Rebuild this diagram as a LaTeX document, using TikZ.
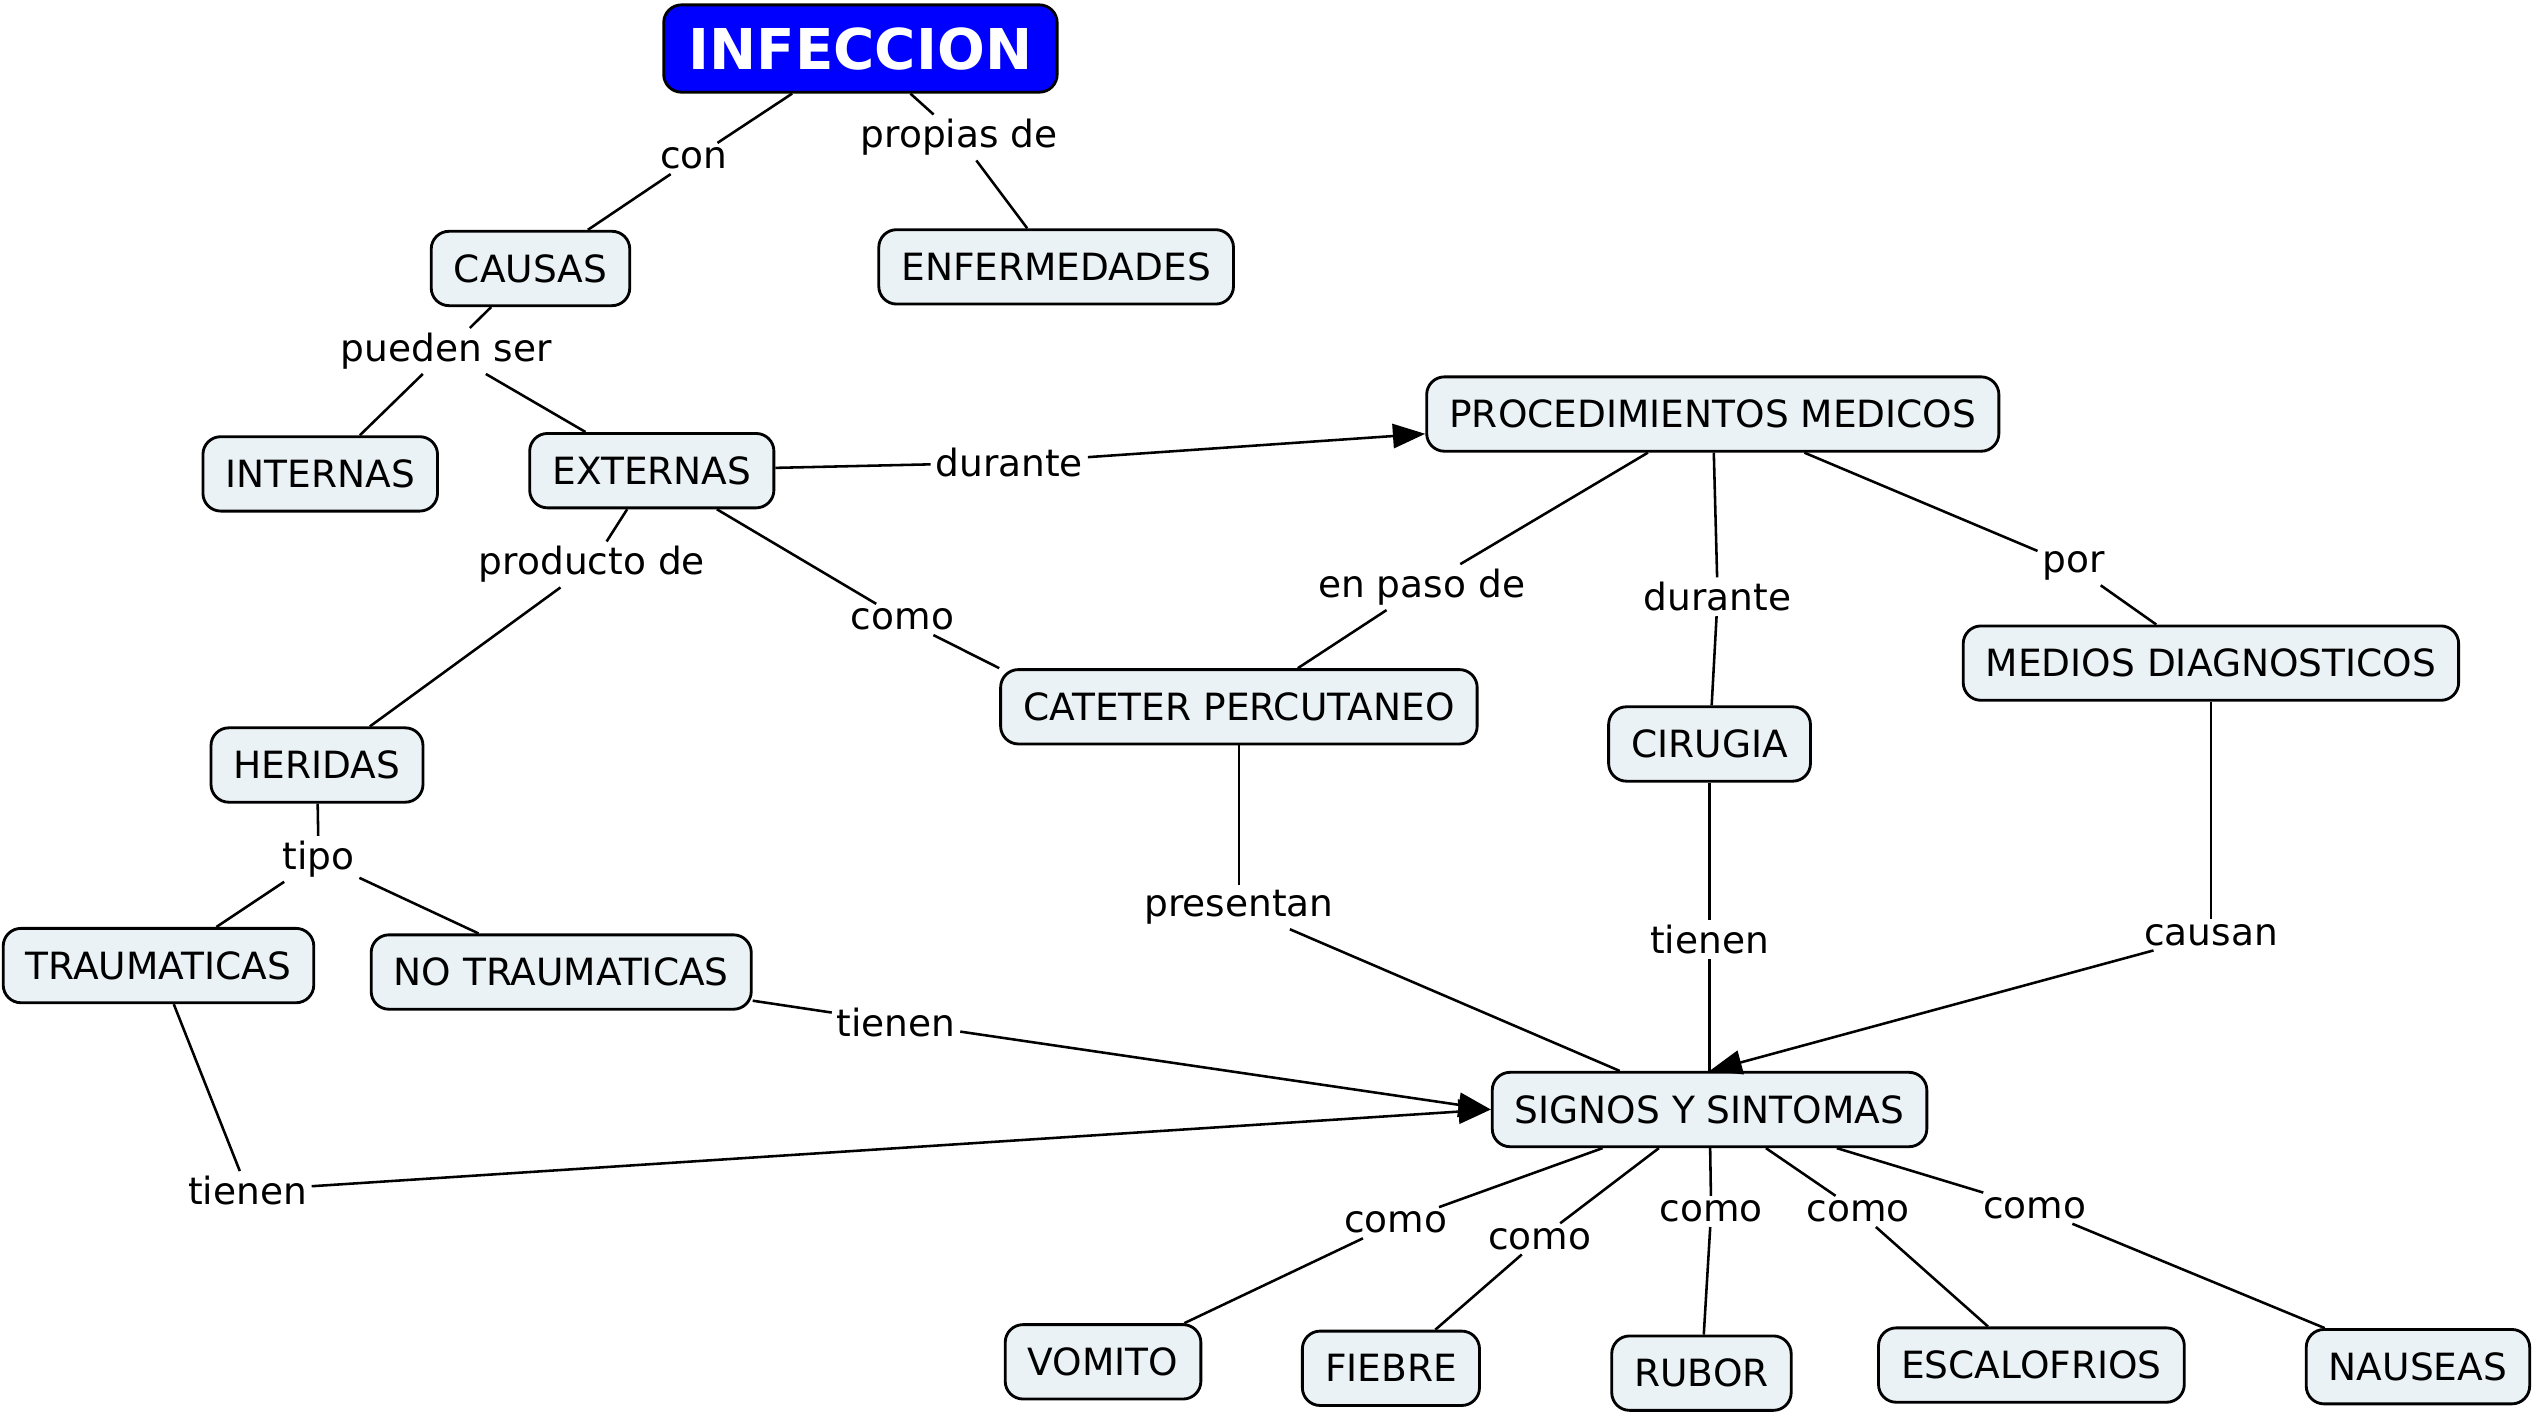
\documentclass[tikz,border=0pt]{standalone}
\usepackage{fontspec}
\setmainfont{DejaVu Sans}
\usetikzlibrary{arrows.meta}

\definecolor{conceptfill}{RGB}{235,242,245}
\definecolor{mainblue}{RGB}{0,0,255}

\tikzstyle{concept} = [rectangle, rounded corners=0.22cm, minimum height=0.92cm, inner xsep=0.28cm, text centered, draw=black, line width=1pt, fill=conceptfill, font=\fontsize{13.2}{15}\selectfont]
\tikzstyle{topconcept} = [concept, fill=mainblue, text=white, minimum height=1.08cm, inner xsep=0.31cm, font=\fontsize{19.8}{22}\selectfont\bfseries]
\tikzstyle{linkword} = [inner sep=1.5pt, font=\fontsize{13.2}{15}\selectfont]
\tikzstyle{link} = [line width=0.9pt]

\begin{document}
\begin{tikzpicture}[x=0.02cm, y=-0.02cm, >={Triangle[length=0.4cm, width=0.3cm]}]
\useasboundingbox (0,0) rectangle (1568,876);

\node (infeccion) [topconcept] at (532,30) {INFECCION};

\node (causas) [concept] at (328,166) {CAUSAS};

\node (enfermedades) [concept] at (653,165) {ENFERMEDADES};

\node (internas) [concept] at (198,293) {INTERNAS};

\node (externas) [concept] at (403,291) {EXTERNAS};

\node (procedimientos) [concept] at (1059,256) {PROCEDIMIENTOS MEDICOS};

\node (heridas) [concept] at (196,473) {HERIDAS};

\node (cateter) [concept] at (766,437) {CATETER PERCUTANEO};

\node (cirugia) [concept] at (1057,460) {CIRUGIA};

\node (medios) [concept] at (1367,410) {MEDIOS DIAGNOSTICOS};

\node (traumaticas) [concept] at (98,597) {TRAUMATICAS};

\node (notraumaticas) [concept] at (347,601) {NO TRAUMATICAS};

\node (signos) [concept] at (1057,686) {SIGNOS Y SINTOMAS};

\node (vomito) [concept] at (682,842) {VOMITO};

\node (fiebre) [concept] at (860,846) {FIEBRE};

\node (rubor) [concept] at (1052,849) {RUBOR};

\node (escalofrios) [concept] at (1256,844) {ESCALOFRIOS};

\node (nauseas) [concept] at (1495,845) {NAUSEAS};

\node (con) [linkword] at (429,98) {con};

\node (propias) [linkword] at (593,85) {propias de};

\node (pueden) [linkword] at (276,217) {pueden ser};

\node (durante1) [linkword] at (624,286) {durante};

\node (producto) [linkword] at (366,349) {producto de};

\node (como1) [linkword] at (558,383) {como};

\node (enpaso) [linkword] at (879,363) {en paso de};

\node (durante2) [linkword] at (1062,369) {durante};

\node (por) [linkword] at (1282,350) {por};

\node (tipo) [linkword] at (197,531) {tipo};

\node (presentan) [linkword] at (766,561) {presentan};

\node (tienen1) [linkword] at (1057,581) {tienen};

\node (causan) [linkword] at (1367,578) {causan};

\node (tienen2) [linkword] at (554,632) {tienen};

\node (tienen3) [linkword] at (153,736) {tienen};

\node (como2) [linkword] at (863,756) {como};

\node (como3) [linkword] at (952,766) {como};

\node (como4) [linkword] at (1058,749) {como};

\node (como5) [linkword] at (1149,749) {como};

\node (como6) [linkword] at (1258,747) {como};

\draw [link] (infeccion) -- (con);
\draw [link] (con) -- (causas);
\draw [link] (infeccion) -- (propias);
\draw [link] (propias) -- (enfermedades);
\draw [link] (causas) -- (pueden);
\draw [link] (pueden) -- (internas);
\draw [link] (pueden) -- (externas);
\draw [link] (externas) -- (durante1);
\draw [link, ->] (durante1) -- (procedimientos);
\draw [link] (externas) -- (producto);
\draw [link] (producto) -- (heridas);
\draw [link] (externas) -- (como1);
\draw [link] (como1) -- (cateter.north west);
\draw [link] (procedimientos) -- (enpaso);
\draw [link] (enpaso) -- (cateter);
\draw [link] (procedimientos) -- (durante2);
\draw [link] (durante2) -- (cirugia);
\draw [link] (procedimientos) -- (por);
\draw [link] (por) -- (medios);
\draw [link] (heridas) -- (tipo);
\draw [link] (tipo) -- (traumaticas);
\draw [link] (tipo) -- (notraumaticas);
\draw [link] (cateter) -- (presentan);
\draw [link] (presentan) -- (signos);
\draw [link] (cirugia) -- (tienen1);
\draw [link] (tienen1) -- (signos);
\draw [link] (medios) -- (causan);
\draw [link, ->] (causan) -- (signos.north);
\draw [link] (notraumaticas) -- (tienen2);
\draw [link, ->] (tienen2) -- (signos.west);
\draw [link] (traumaticas) -- (tienen3);
\draw [link, ->] (tienen3) -- (signos.west);
\draw [link] (signos) -- (como2);
\draw [link] (como2) -- (vomito);
\draw [link] (signos) -- (como3);
\draw [link] (como3) -- (fiebre);
\draw [link] (signos) -- (como4);
\draw [link] (como4) -- (rubor);
\draw [link] (signos) -- (como5);
\draw [link] (como5) -- (escalofrios);
\draw [link] (signos) -- (como6);
\draw [link] (como6) -- (nauseas);
\end{tikzpicture}
\end{document}
